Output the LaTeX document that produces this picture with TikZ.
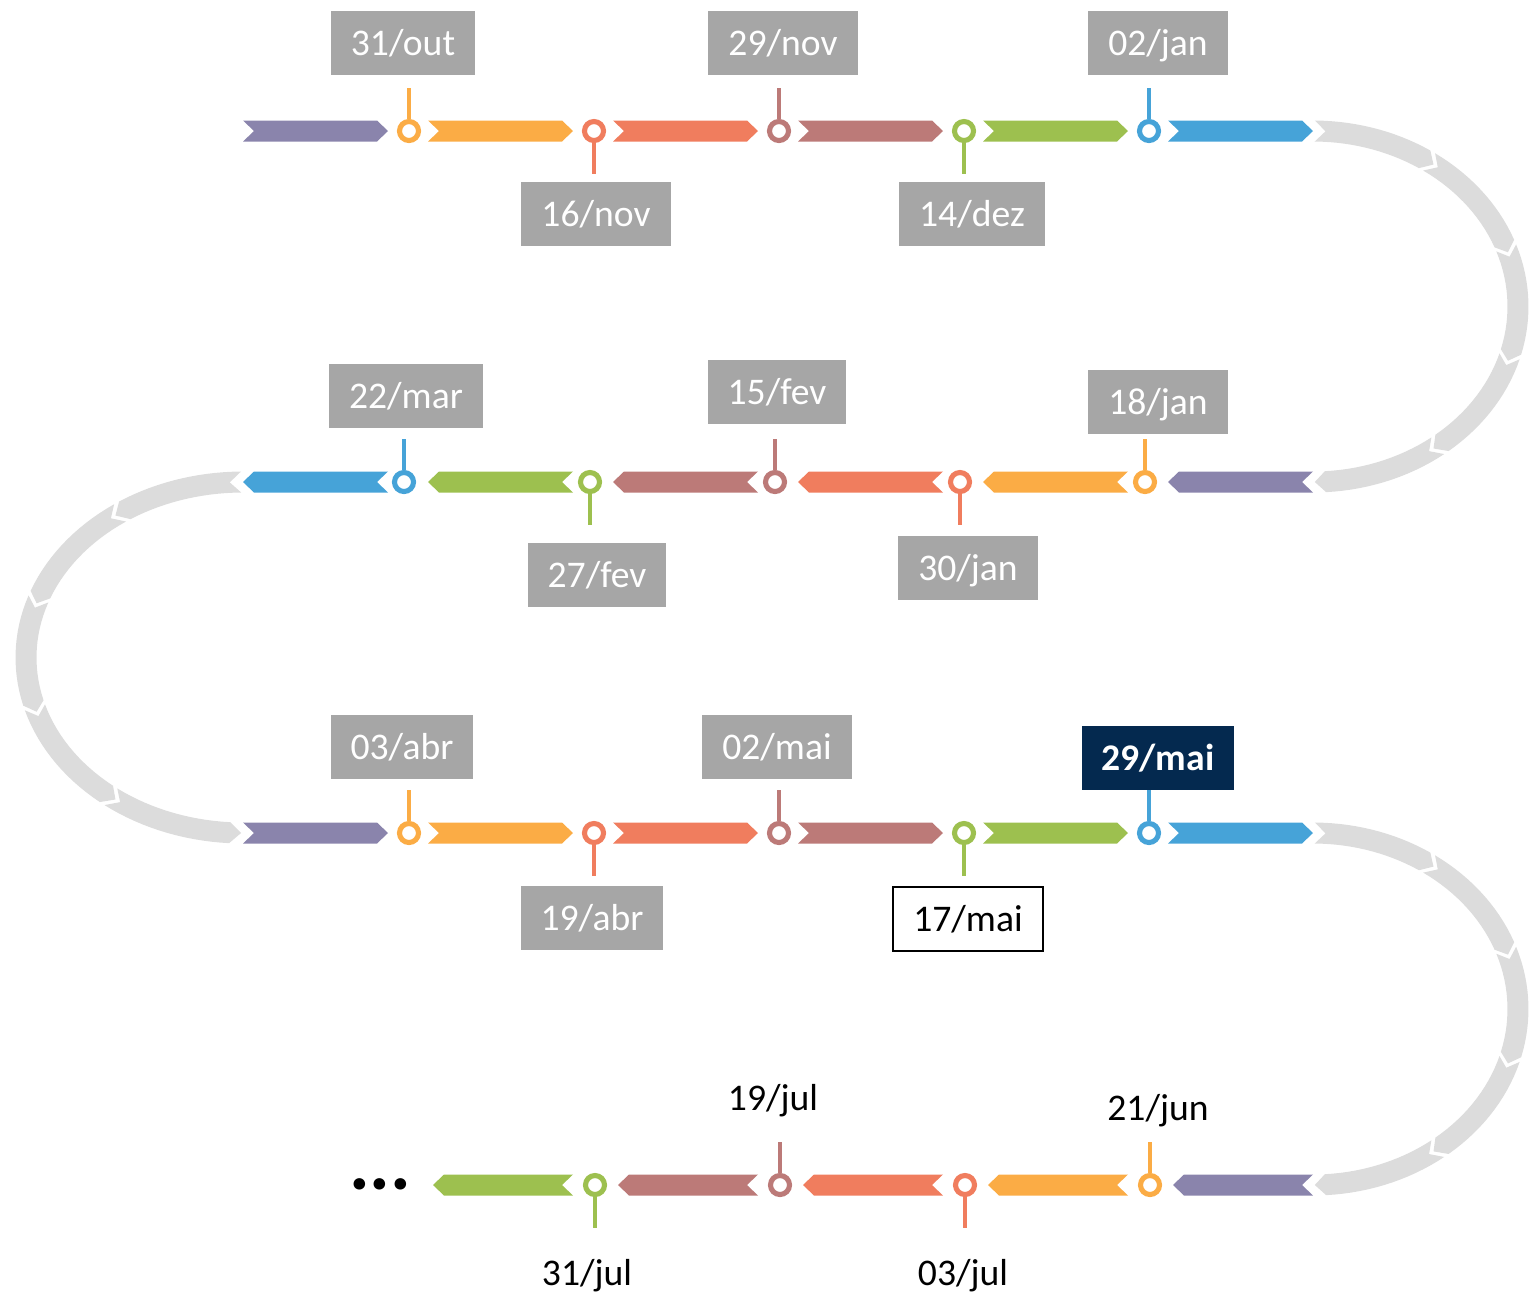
\documentclass[tikz,border=0pt]{standalone}
\usepackage{fontspec}
\setmainfont{Carlito}
\usetikzlibrary{positioning}
\definecolor{lilac}{HTML}{8A84AC}
\definecolor{amber}{HTML}{FBAC45}
\definecolor{coral}{HTML}{F07D5E}
\definecolor{rosewood}{HTML}{BC7A78}
\definecolor{leaf}{HTML}{9DC04F}
\definecolor{sky}{HTML}{46A3D8}
\definecolor{track}{HTML}{DCDCDC}
\definecolor{tagfill}{HTML}{A6A6A6}
\definecolor{navy}{HTML}{04294F}

% chevron pointing right / left: x start, x end, y, colour
\newcommand{\segright}[4]{\fill[#4] (#1,#3-10.5) -- (#2-11,#3-10.5) -- (#2,#3)
  -- (#2-11,#3+10.5) -- (#1,#3+10.5) -- (#1+11,#3) -- cycle;}
\newcommand{\segleft}[4]{\fill[#4] (#2,#3-10.5) -- (#1+11,#3-10.5) -- (#1,#3)
  -- (#1+11,#3+10.5) -- (#2,#3+10.5) -- (#2-11,#3) -- cycle;}
% grey piece of a turn: centre x, centre y, x radius, y radius, from, to, sense
\newcommand{\trackseg}[7]{%
  \pgfmathsetmacro\trkc{#6-#7*3}%
  \pgfmathsetmacro\trkn{#5+#7*3}%
  \fill[track] plot[variable=\t, domain=#5:\trkc, samples=16]
      ({#1+(#3+10.5)*cos(\t)},{#2+(#4+10.5)*sin(\t)})
    -- ({#1+#3*cos(#6)},{#2+#4*sin(#6)})
    -- plot[variable=\t, domain=\trkc:#5, samples=16]
      ({#1+(#3-10.5)*cos(\t)},{#2+(#4-10.5)*sin(\t)})
    -- ({#1+#3*cos(\trkn)},{#2+#4*sin(\trkn)}) -- cycle;}
% ring with its stalk: name, x, y, colour, stalk offset
\newcommand{\milestone}[5]{%
  \node[ring, draw=#4] (#1) at (#2,#3) {};
  \coordinate (#1end) at (#2,{#3+(#5)});
  \draw[stalk, #4] (#1) -- (#1end);}

\begin{document}
\begin{tikzpicture}[x=0.01cm, y=-0.01cm,
    tag/.style={rectangle, fill=tagfill, text=white, inner xsep=0.2cm,
                minimum height=0.64cm, text height=8.6pt, text depth=1.7pt,
                font=\fontsize{10.7}{13}\selectfont},
    tagnow/.style={tag, fill=navy, font=\fontsize{10.7}{13}\selectfont\bfseries},
    tagbox/.style={tag, fill=white, draw=black, line width=0.6pt, text=black},
    bare/.style={tag, fill=none, text=black},
    ring/.style={circle, fill=white, line width=1.45pt, minimum size=0.19cm,
                 inner sep=0pt},
    stalk/.style={line width=0.9pt}
  ]
  \useasboundingbox (0,0) rectangle (1529,1293);

  % turns
  \foreach \a/\b in {-89.5/-54, -55.5/-18, -19.5/18, 16.5/54, 52.5/89.5} {
    \trackseg{1313}{306.5}{205}{175.5}{\a}{\b}{1}
    \trackseg{1313}{1009}{205}{176}{\a}{\b}{1}
  }
  \foreach \a/\b in {-90.5/-126, -124.5/-162, -160.5/-198, -196.5/-234, -232.5/-269.5}
    \trackseg{243}{657.5}{217}{175.5}{\a}{\b}{-1};

  % rows
  \foreach \c [count=\i from 0] in {lilac,amber,coral,rosewood,leaf,sky} {
    \segright{243+185*\i}{388+185*\i}{131}{\c}
    \segright{243+185*\i}{388+185*\i}{833}{\c}
  }
  \foreach \c [count=\i from 0] in {sky,leaf,rosewood,coral,amber,lilac}
    \segleft{243+185*\i}{388+185*\i}{482}{\c};
  \foreach \c [count=\i from 0] in {leaf,rosewood,coral,amber,lilac}
    \segleft{433+185*\i}{573+185*\i}{1185}{\c};

  % row 1
  \milestone{p1}{409}{131}{amber}{-43}
  \milestone{p2}{594}{131}{coral}{43}
  \milestone{p3}{779}{131}{rosewood}{-43}
  \milestone{p4}{964}{131}{leaf}{43}
  \milestone{p5}{1149}{131}{sky}{-43}
  \node[tag] (out31) at (403,43) {31/out};
  \node[tag] (nov16) at (596,214) {16/nov};
  \node[tag] (nov29) at (783,43) {29/nov};
  \node[tag] (dez14) at (972,214) {14/dez};
  \node[tag] (jan02) at (1158,43) {02/jan};

  % row 2
  \milestone{p6}{1145}{482}{amber}{-43}
  \milestone{p7}{960}{482}{coral}{43}
  \milestone{p8}{775}{482}{rosewood}{-43}
  \milestone{p9}{590}{482}{leaf}{43}
  \milestone{p10}{404}{482}{sky}{-43}
  \node[tag] (jan18) at (1158,402) {18/jan};
  \node[tag] (jan30) at (968,568) {30/jan};
  \node[tag] (fev15) at (777,392) {15/fev};
  \node[tag] (fev27) at (597,575) {27/fev};
  \node[tag] (mar22) at (406,396) {22/mar};

  % row 3
  \milestone{p11}{409}{833}{amber}{-43}
  \milestone{p12}{594}{833}{coral}{43}
  \milestone{p13}{779}{833}{rosewood}{-43}
  \milestone{p14}{964}{833}{leaf}{43}
  \milestone{p15}{1149}{833}{sky}{-43}
  \node[tag] (abr03) at (402,747) {03/abr};
  \node[tag] (abr19) at (592,918) {19/abr};
  \node[tag] (mai02) at (777,747) {02/mai};
  \node[tagbox] (mai17) at (968,919) {17/mai};
  \node[tagnow] (mai29) at (1158,758) {29/mai};

  % row 4
  \milestone{p16}{1150}{1185}{amber}{-43}
  \milestone{p17}{965}{1185}{coral}{43}
  \milestone{p18}{780}{1185}{rosewood}{-43}
  \milestone{p19}{595}{1185}{leaf}{43}
  \node[bare] (jun21) at (1158,1108) {21/jun};
  \node[bare] (jul03) at (963,1273) {03/jul};
  \node[bare] (jul19) at (773,1098) {19/jul};
  \node[bare] (jul31) at (587,1273) {31/jul};
  \node[inner sep=0pt, font=\fontsize{22}{24}\selectfont\bfseries] (more) at (380,1184) {...};
\end{tikzpicture}
\end{document}
